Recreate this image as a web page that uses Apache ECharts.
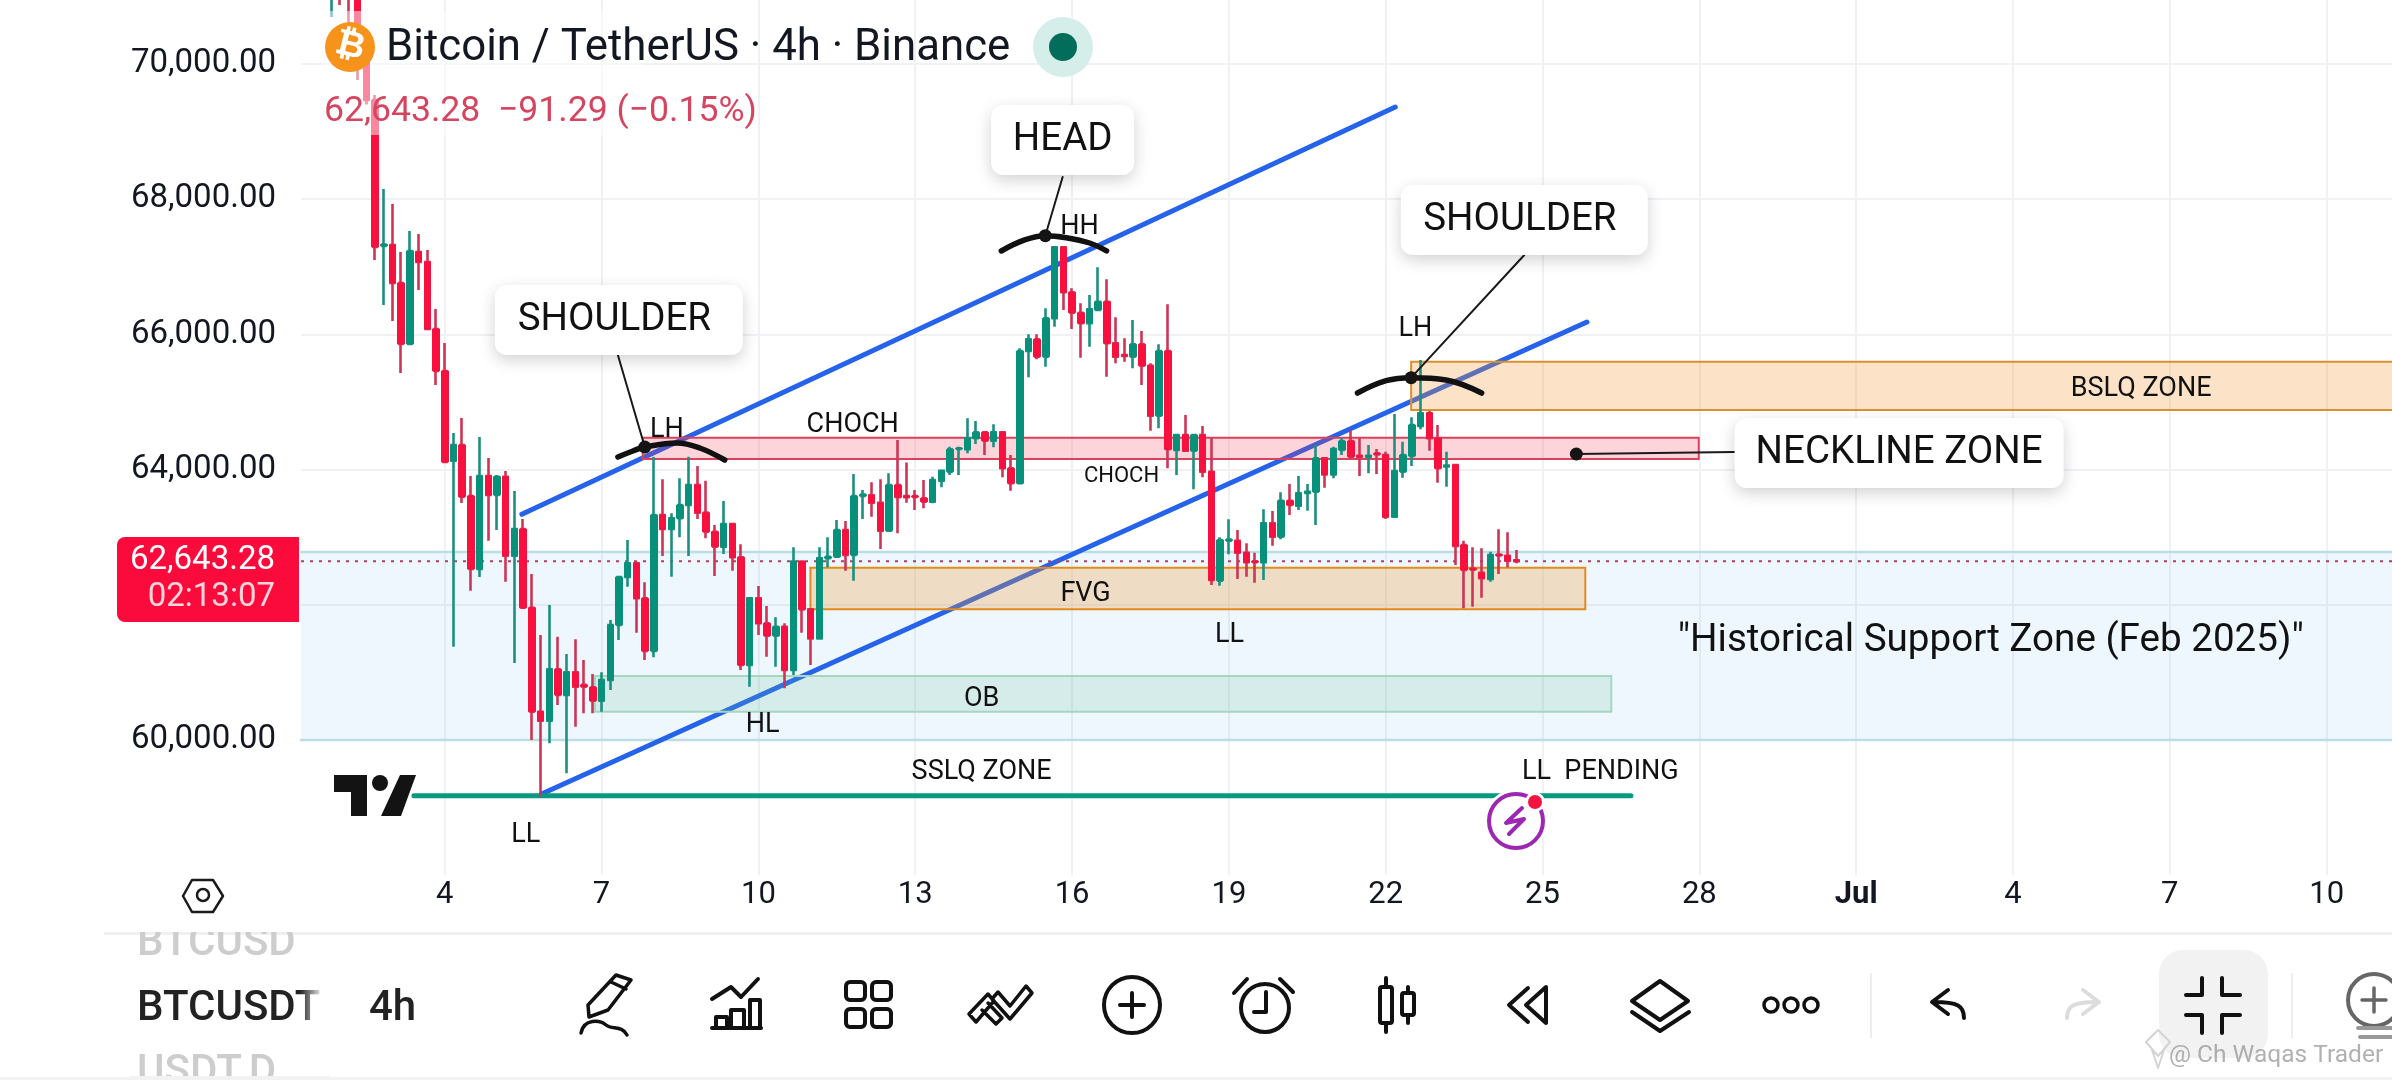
<!DOCTYPE html>
<html><head><meta charset="utf-8">
<style>html,body{margin:0;padding:0;background:#fff}#c{width:2392px;height:1080px}</style>
<script src="https://cdn.jsdelivr.net/npm/echarts@6/dist/echarts.min.js"></script>
</head><body><div id="c"></div>
<script>
// ---------- data ----------
const firstBar = 3;          // index of the first bar that shows (earlier ones lie above the view)
const barCount = 240;        // 4h bars on the time axis
const dayLabels = ['4','7','10','13','16','19','22','25','28','Jul','4','7','10'];
const dayFirstIndex = 16, dayStep = 18;
const yTicks = {min:58000,max:71000,step:2000};

const opens=[71300,71500,71400,71243,70207,69468,67310,67323,66760,65858,67219,67071,66080,65459,64132,64364,63610,62530,63905,63624,63895,62726,63121,61957,60419,60286,61046,60666,61001,60815,60780,60581,60888,61701,62411,62614,62096,61317,63328,63121,63280,63476,63772,63363,63081,62860,63195,62703,61109,62096,61726,61543,61676,61036,62638,61933,61504,62690,62711,63107,62737,63610,63620,63510,63096,63772,63610,63610,63575,63525,63836,63969,64305,64300,64463,64552,64428,64552,64019,63797,65754,65927,65670,66238,67289,66623,66321,66164,66361,66484,65868,65695,65670,65854,65537,64797,65754,64290,64512,64280,64512,63969,62357,62950,62948,62771,62645,62629,63206,63007,63540,63466,63655,63673,64167,63930,64290,64423,64205,64190,64240,64216,63303,63969,64201,64645,64833,64463,64045,64068,62885,62535,62475,62382,62745,62726,62660];
const closes=[71450,71300,71150,70207,69468,67293,67330,66760,65858,67234,67071,66080,65459,64112,64364,63599,62530,63905,63624,63895,62726,63121,61957,60419,60286,61046,60666,61001,60788,60790,60581,60888,61701,62411,62614,62096,61317,63328,63121,63280,63476,63772,63363,63081,62860,63195,62703,61109,62096,61726,61543,61676,61036,62638,61933,61504,62688,62710,63107,62737,63609,63630,63510,63096,63772,63590,63590,63595,63525,63846,63984,64300,64315,64463,64552,64428,64552,64019,63797,65754,65927,65670,66238,67289,66623,66321,66164,66371,66484,65868,65670,65680,65854,65537,64797,65754,64300,64512,64280,64512,63969,62367,62959,62965,62771,62629,62630,63206,63007,63540,63476,63649,63670,64167,63930,64305,64423,64191,64190,64205,64225,63303,63979,64216,64660,64833,64463,64019,64060,62870,62515,62520,62392,62737,62730,62652,62643.28];
const lows=[70695,70873,70621,69763,69400,67101,66435,66198,65429,65858,66657,66080,65252,64112,61380,63506,62209,62411,62948,63107,62342,61139,61957,60000,59161,59951,60518,59507,60197,60395,60395,60419,60740,61479,62268,61587,61183,61223,62722,62416,62998,62722,63269,62984,62426,62751,62504,61036,60788,61553,61232,61084,60765,60962,61587,61109,61504,62555,62711,62504,62357,63269,63303,62825,63096,63058,63510,63402,63428,63502,63738,63920,63920,64241,64379,64216,64330,63886,63688,63797,65365,65632,65522,66114,66361,66080,65655,65818,66361,65374,65573,65596,65499,65252,64575,64611,64019,63920,64280,63709,63886,62293,62283,62747,62382,62416,62327,62367,62874,62969,63328,63402,63392,63180,63732,63871,64216,64167,63905,63945,63935,63269,63303,63880,64053,64596,64280,63806,63747,62589,61948,61972,62105,62342,62456,62555,62614];
const highs=[71500,71550,71500,71400,70355,69540,68151,67929,67219,67530,67485,67249,66376,65873,64541,64763,63905,64482,64172,63920,63979,63683,63269,62456,61553,61997,61528,61272,61490,61183,60976,61001,61775,62420,62959,62638,62333,64186,63857,63354,63871,64191,64053,63836,63180,63536,63195,62895,62096,62278,61982,61815,61726,62851,62638,61933,62851,62998,63254,63240,63935,63698,63812,63857,63945,64438,64105,63698,63846,63895,63990,64339,64339,64759,64719,64560,64670,64552,64216,65794,66001,66001,66386,67289,67289,66682,66460,66583,66993,66815,66253,65942,66213,66050,65573,65854,66445,64520,64808,64520,64645,64463,62998,63265,63107,62910,62771,63413,63388,63664,63787,63905,63787,64364,64170,64339,64463,64586,64463,64364,64305,64265,64823,64413,64774,65621,64867,64660,64265,64075,62948,62851,62836,62786,63117,63073,62811];

const lastPrice = 62643.28;
const lastPriceText = '62,643.28', countdownText = '02:13:07';
const legendTitle = 'Bitcoin / TetherUS · 4h · Binance';
const legendQuote = '62,643.28  \u221291.29 (\u22120.15%)';

// zones: [fromBar, toBar, topPrice, bottomPrice]
const historicalZone = [-0.5,239.5,62781,60000];
const neckZone = [38.73,159.93,64472,64157];
const bslqZone = [126.92,245,65596,64882];
const fvgZone  = [57.97,146.91,62549,61933];
const obZone   = [33.23,149.89,60947,60419];

// drawn lines: [bar, price] end points
const upperChannel = [[24.85,63339],[125.1,69364]];
const lowerChannel = [[27.1,59201],[147.1,66183]];
const sslqLine = [[12.46,59176],[152.15,59176]];
const shoulderArcL = [[35.87,64186],[37.59,64275],[38.96,64334],[42.63,64394],[45.27,64320],[48.14,64142]];
const headArc = [[79.88,67234],[82.56,67397],[84.93,67460],[87.34,67431],[90.01,67352],[91.96,67234]];
const shoulderArcR = [[120.76,65133],[124.05,65315],[126.92,65360],[130.93,65325],[135.01,65133]];
const pivots = [[38.96,64334],[84.93,67460],[126.92,65360],[145.88,64231]];
const leaders = [
  [[35.87,65695],[38.96,64334]],
  [[86.92,68328],[84.93,67460]],
  [[139.91,67175],[126.92,65360]],
  [[145.88,64231],[164.0,64260]]
];
// text notes: [text, bar, price]
const smallNotes = [
  ['LH',41.49,64630],['HH',88.86,67633],['CHOCH',62.82,64697],['LH',127.41,66124],
  ['FVG',89.55,62204],['LL',106.07,61598],['OB',77.62,60651],['HL',52.5,60266],
  ['SSLQ ZONE',77.62,59571],['LL',25.31,58639],['LL  PENDING',148.63,59571],['BSLQ ZONE',210.7,65237]
];
const tinyNotes = [['CHOCH',93.68,63935]];
const bigNotes = [['"Historical Support Zone (Feb 2025)"',193.44,61509]];
const boxNotes = [
  ['SHOULDER',35.98,66213,248,9],['HEAD',86.92,68876,143,0],
  ['SHOULDER',139.91,67692,247,9],['NECKLINE ZONE',182.93,64246,329,0]
];

// ---------- colours ----------
const UP='#07917a', DOWN='#f8103f', UPW='#1d8f80', DOWNW='#cc3556', INK='#131722', F='Roboto, sans-serif';

// ---------- chart ----------
const categories = Array.from({length:barCount},(_,i)=>String(i));
function dayOf(i){ const k=(i-dayFirstIndex)/dayStep; return (k>=0 && Number.isInteger(k)) ? dayLabels[k] : null; }
const isDay = i => dayOf(+i)!==null;

const wickRows = opens.map((o,k)=>[k+firstBar,o,closes[k],lows[k],highs[k]]);
const bodyRows = opens.map((o,k)=>[k+firstBar,o,closes[k],Math.min(o,closes[k]),Math.max(o,closes[k])]);

function zoneSeries(zones, styles, z){
  return {type:'custom',xAxisIndex:1,yAxisIndex:0,z,clip:true,silent:true,
    encode:{x:[0,1],y:[2,3]},data:zones,
    renderItem(p,api){
      const a=api.coord([api.value(0),api.value(2)]), b=api.coord([api.value(1),api.value(3)]);
      return {type:'rect',shape:{x:a[0],y:a[1],width:b[0]-a[0],height:b[1]-a[1]},style:styles[p.dataIndex]};
    }};
}
function lineSeries(data,color,width,z,extra){
  return Object.assign({type:'line',xAxisIndex:1,yAxisIndex:0,data,symbol:'none',silent:true,z,clip:true,
    lineStyle:{color,width,cap:'round'}},extra||{});
}
function noteSeries(rows,labelStyle,z){
  return {type:'scatter',xAxisIndex:1,yAxisIndex:0,z,silent:true,symbolSize:1,itemStyle:{color:'transparent',opacity:1},
    data:rows.map(r=>({value:[r[1],r[2]],name:r[0]})),
    label:Object.assign({show:true,position:'inside',offset:[0,3],formatter:d=>d.name,fontFamily:F,color:'#111',align:'center',verticalAlign:'middle'},labelStyle)};
}

// ---------- non-data furniture ----------
const gfx=[], paths=[];
const Z=50;
const P=(d,stroke,lw,fill)=>paths.push({type:'path',silent:true,shape:{pathData:d},style:{fill:fill||'none',stroke:stroke||'#111',lineWidth:lw||0,lineCap:'round',lineJoin:'round'}});
const C=(cx,cy,r,fill,stroke,lw,z)=>gfx.push({type:'circle',z:z||Z,silent:true,shape:{cx,cy,r},style:{fill:fill||'none',stroke:stroke||null,lineWidth:lw||0}});
const R=(x,y,w,h,fill,r,z,extra)=>gfx.push({type:'rect',z:z||Z,silent:true,shape:{x,y,width:w,height:h,r:r||0},style:Object.assign({fill},extra||{})});
const T=(text,x,y,size,color,opt)=>gfx.push({type:'text',z:(opt&&opt.z)||Z+1,silent:true,x,y,rotation:(opt&&opt.rot)||0,style:{text,fill:color,font:((opt&&opt.weight)||'400')+' '+size+'px '+F,textAlign:(opt&&opt.align)||'left',textVerticalAlign:'middle'}});

// legend veil, legend
R(322,11,320,124,'rgba(255,255,255,0.5)',0,Z-2);
C(350,47,25,'#f7931a');
T('\u20BF',350,47,36,'#fff',{align:'center',weight:'700',rot:-0.24});
T(legendTitle,386,49,43.8,INK);
T(legendQuote,324,112,35.6,'#d4465f');
C(1063,47,30,'#d6eee9'); C(1063,47,14,'#026d5a',null,0,Z+1);

// price tag
gfx.push({type:'rect',z:Z,silent:true,shape:{x:117,y:537,width:182,height:85,r:[8,0,0,8]},style:{fill:'#fb0a3c'}});
T(lastPriceText,275,561,33,'#fff',{align:'right'});
T(countdownText,275,598,33,'#ffd5dc',{align:'right'});

// TradingView mark
P('M334 775 H367 V816 H351 V792 H334 Z M400 775 H416 L401 816 H381 Z','#131313',0,'#131313');
C(380,783,8,'#131313');

// bolt badge
C(1516,821,32,'#fff');
C(1516,821,27,'none','#9c27b0',4);
P('M1522 808 L1506 823 L1524 819 L1509 834','#9c27b0',4);
C(1535,802,10,'#fff'); C(1535,802,7,'#f5143f');

// settings hexagon
P('M183 896 L192 880 H213 L223 896 L213 912 H192 Z','#1a1a1a',2.5);
C(203,895,6,'none','#1a1a1a',2.5);

// toolbar
R(104,932,2288,3,'#f0f0f0');
T('BTCUSD',137,944,42,'#cdcdcd',{weight:'500',z:Z});
R(130,922,200,10,'#fff',0,Z+2);
T('BTCUSDT',137,1009,42,'#222',{weight:'500',z:Z});
gfx.push({type:'rect',z:Z+2,silent:true,shape:{x:300,y:980,width:40,height:50},style:{fill:{type:'linear',x:0,y:0,x2:1,y2:0,colorStops:[{offset:0,color:'rgba(255,255,255,0)'},{offset:0.6,color:'#fff'},{offset:1,color:'#fff'}]}}});
T('USDT.D',137,1073,42,'#cdcdcd',{weight:'500',z:Z});
R(130,1076,200,4,'#f2f2f2',0,Z+2);
T('4h',369,1009,42,'#222',{weight:'500'});
R(0,1077,2392,3,'#f2f2f2');

P('M589 1017 L588 1005 L616 975 L631 980 L608 1010 Z M611 982 L626 989 M581 1033 C584 1018 600 1020 606 1025 C612 1030 622 1025 627 1035','#111',3.5);
P('M712 999 L731 987 L741 997 L758 979 M716 1027 V1017 H727 V1027 M731 1027 V1010 H744 V1027 M750 1027 V1000 H760 V1027 M712 1028 H761','#111',4);
[[846,982],[872,982],[846,1009],[872,1009]].forEach(q=>gfx.push({type:'rect',z:Z,silent:true,shape:{x:q[0],y:q[1],width:19,height:18,r:4},style:{fill:'none',stroke:'#111',lineWidth:4}}));
P('M969 1014 L988 994 L994 1001 L976 1022 Z M988 1003 L1002 1018 L996 1024 L982 1010 M998 992 L1010 1006 L1026 986 L1032 993 L1010 1019 L992 999 Z','#111',3.5);
C(1132,1005,28,'none','#111',4); P('M1120 1005 H1144 M1132 993 V1017','#111',4);
C(1265,1008,24,'none','#111',4); P('M1266 992 V1012 H1254 M1234 993 L1247 979 M1280 979 L1293 992','#111',4);
P('M1386 978 V987 M1386 1023 V1032 M1408 987 V993 M1408 1015 V1023','#111',4);
gfx.push({type:'rect',z:Z,silent:true,shape:{x:1380,y:987,width:12,height:36,r:2},style:{fill:'none',stroke:'#111',lineWidth:4}});
gfx.push({type:'rect',z:Z,silent:true,shape:{x:1402,y:993,width:12,height:22,r:2},style:{fill:'none',stroke:'#111',lineWidth:4}});
P('M1528 988 L1509 1005 L1528 1022 M1546 987 L1526 1005 L1546 1023 Z','#111',4);
P('M1660 981 L1688 1001 L1660 1020 L1632 1001 Z M1632 1012 L1660 1031 L1689 1012','#111',4);
[1771,1791,1811].forEach(x=>C(x,1005,7,'none','#111',3.5));
R(1870,973,2,65,'#eeeeee');
P('M1964 1018 C1964 1006 1958 1002 1934 1002 M1948 990 L1932 1002 L1948 1014','#111',4);
P('M2067 1018 C2067 1006 2073 1002 2097 1002 M2083 990 L2099 1002 L2083 1014','#dcdcdc',4);
R(2159,950,109,108,'#f2f2f2',24,Z-1);
P('M2202 978 V995 H2186 M2222 978 V995 H2240 M2186 1015 H2202 V1033 M2240 1015 H2222 V1033','#111',4);
R(2291,973,2,65,'#eeeeee');
C(2374,1000,26,'none','#666',4); P('M2362 1000 H2386 M2374 988 V1012','#666',3.5);
P('M2358 1028 H2392 M2360 1037 H2392','#999',4);

// watermark
P('M2146 1042 L2158 1030 L2170 1042 L2158 1056 Z M2152 1050 L2158 1056 L2164 1050 L2158 1068 Z','#d4d4d4',2);
T('@ Ch Waqas Trader',2169,1056,24.5,'rgba(125,125,125,0.6)',{z:Z+3});

const series = [
  // historical zone: fill + rim lines
  zoneSeries([historicalZone],[{fill:'rgba(33,150,243,0.075)'}],1),
  lineSeries([[historicalZone[0],historicalZone[2]],[historicalZone[1],historicalZone[2]]],'#bcdde4',2.5,1),
  lineSeries([[historicalZone[0],historicalZone[3]],[historicalZone[1],historicalZone[3]]],'#bcdde4',2.5,1),
  lineSeries(upperChannel,'#2563eb',5,2),
  lineSeries(lowerChannel,'#2563eb',5,2),
  lineSeries(sslqLine,'#089981',5,2),
  zoneSeries([neckZone,bslqZone,fvgZone,obZone],[
    {fill:'rgba(245,60,85,0.22)',stroke:'#d9415c',lineWidth:2},
    {fill:'rgba(245,150,50,0.28)',stroke:'#d8912f',lineWidth:2},
    {fill:'rgba(245,150,50,0.28)',stroke:'#e28a1c',lineWidth:2},
    {fill:'rgba(100,190,150,0.18)',stroke:'#a6d6c0',lineWidth:2}
  ],3),
  lineSeries([[-0.5,lastPrice],[239.5,lastPrice]],'#b0405e',2,3,{lineStyle:{color:'#b0405e',width:2,type:[3,6]}}),
  {type:'candlestick',name:'wicks',xAxisIndex:0,yAxisIndex:0,z:4,silent:true,barWidth:4,encode:{x:0,y:[1,2,3,4]},data:wickRows,
    itemStyle:{color:UP,color0:DOWN,borderColor:UPW,borderColor0:DOWNW,borderColorDoji:UPW,borderWidth:2.6}},
  {type:'candlestick',name:'bodies',xAxisIndex:0,yAxisIndex:0,z:5,silent:true,barWidth:7,encode:{x:0,y:[1,2,3,4]},data:bodyRows,
    itemStyle:{color:UP,color0:DOWN,borderColor:UP,borderColor0:DOWN,borderColorDoji:UP,borderWidth:1}},
  ...leaders.map(l=>lineSeries(l,'#1a1a1a',2,6)),
  lineSeries(shoulderArcL,'#111',5.5,7,{smooth:0.4}),
  lineSeries(headArc,'#111',5.5,7,{smooth:0.4}),
  lineSeries(shoulderArcR,'#111',5.5,7,{smooth:0.4}),
  {type:'scatter',xAxisIndex:1,yAxisIndex:0,z:8,silent:true,symbolSize:13,data:pivots,itemStyle:{color:'#141414',opacity:1}},
  noteSeries(smallNotes,{fontSize:27},9),
  noteSeries(tinyNotes,{fontSize:22},9),
  noteSeries(bigNotes,{fontSize:38.6},9),
  {type:'scatter',xAxisIndex:1,yAxisIndex:0,z:10,silent:true,symbolSize:1,itemStyle:{color:'transparent',opacity:1},
    data:boxNotes.map(r=>({value:[r[1],r[2]],name:r[0],
      label:{width:r[3]-r[4],height:70,lineHeight:76,padding:[0,r[4],0,0]}})),
    label:{show:true,position:'inside',formatter:d=>d.name,fontFamily:F,fontSize:38.5,color:'#111',align:'center',verticalAlign:'middle',
      backgroundColor:'#fff',borderRadius:12,shadowBlur:16,shadowOffsetY:5,shadowColor:'rgba(0,0,0,0.18)'}},
  // toolbar / logo outlines
  {type:'custom',coordinateSystem:'none',z:60,silent:true,data:[0],clip:false,
    renderItem(){ return {type:'group',children:paths}; }}
];

// ---------- options ----------
const chart = echarts.init(document.getElementById('c'),null,{renderer:'canvas'});
chart.setOption({
  animation:false,backgroundColor:'#fff',tooltip:{show:false},legend:{show:false},
  grid:{left:301,top:-3.6,width:2091,height:878.8,containLabel:false,outerBoundsMode:'none'},
  xAxis:[
    {type:'category',data:categories,boundaryGap:true,axisLine:{show:false},axisTick:{show:false},
      axisLabel:{show:true,interval:(i)=>isDay(i),margin:5,hideOverlap:false,color:INK,fontFamily:F,fontSize:31,
        formatter:(v,i)=>{const d=dayOf(i); return d==='Jul'?'{b|Jul}':(d||'');},
        rich:{b:{fontFamily:F,fontSize:31,fontWeight:'700',color:INK}}},
      splitLine:{show:true,alignWithLabel:true,interval:(i)=>isDay(i),lineStyle:{color:'#eff1f5',width:2}}},
    {type:'value',min:-0.5,max:239.5,show:false,splitLine:{show:false}}
  ],
  yAxis:{type:'value',min:yTicks.min,max:yTicks.max,interval:yTicks.step,axisLine:{show:false},axisTick:{show:false},
    axisLabel:{show:true,showMinLabel:false,showMaxLabel:false,margin:25,color:INK,fontFamily:F,fontSize:33,padding:[0,0,8,0],
      formatter:v=>v.toLocaleString('en-US',{minimumFractionDigits:2,maximumFractionDigits:2})},
    splitLine:{show:true,showMinLine:false,lineStyle:{color:'#eff1f5',width:2}}},
  series,
  graphic:{elements:gfx}
});
</script></body></html>
